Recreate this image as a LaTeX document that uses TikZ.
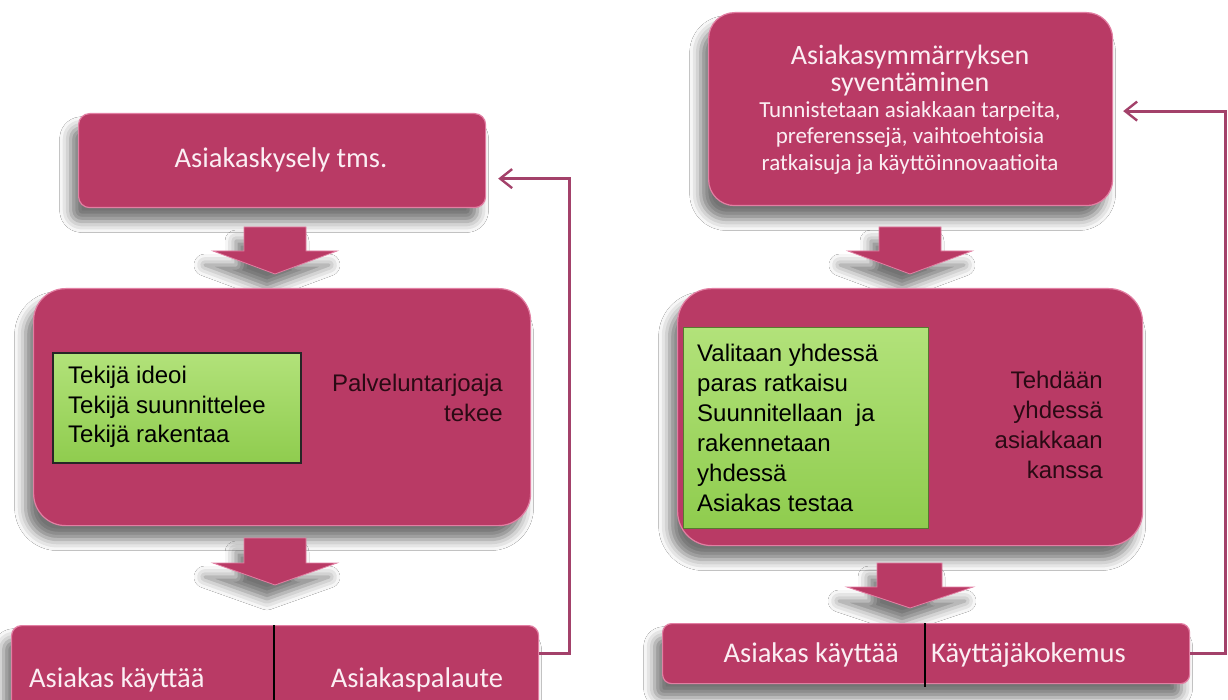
\documentclass[tikz,border=0pt]{standalone}
\usepackage{fontspec}
\setmainfont{Liberation Sans}
\newfontfamily\calfont{Carlito}
\usetikzlibrary{arrows.meta,shadows.blur,calc}
\definecolor{pinkbox}{HTML}{B93A65}
\definecolor{pinkedge}{HTML}{E27FA3}
\definecolor{fbcol}{HTML}{A3416A}
\definecolor{greenbox}{HTML}{8FCC4E}
\definecolor{greenlight}{HTML}{B2E27A}
\definecolor{pinktext}{HTML}{FBEEF3}
\definecolor{darktext}{HTML}{2A0A14}
\tikzset{
  shad/.style={blur shadow={shadow xshift=-8pt, shadow yshift=-14pt, shadow blur radius=11pt, shadow opacity=55}},
  pinkbox/.style={draw=pinkedge, line width=1.2pt, fill=pinkbox, shad, anchor=north west, inner sep=0pt},
  greenbox/.style={top color=greenlight, bottom color=greenbox, anchor=north west, inner sep=0pt},
  blockarrow/.style={fill=pinkbox, draw=pinkedge, line width=0.8pt, shad},
  fbl/.style={draw=fbcol, line width=3pt, -{Straight Barb[length=12pt,width=19pt,line width=2.4pt]}},
  pinklabel/.style={text=pinktext, font=\calfont\fontsize{28.5}{30}\selectfont, inner sep=0pt},
  greenlabel/.style={text=black, font=\fontsize{24}{29.5}\selectfont, align=left, inner sep=0pt, anchor=west},
  darklabel/.style={text=darktext, font=\fontsize{24}{30}\selectfont, align=right, inner sep=0pt, anchor=east},
}
\begin{document}
\begin{tikzpicture}[x=1pt,y=-1pt]
\useasboundingbox (0,0) rectangle (1228,700);
\clip (0,0) rectangle (1228,700);
\fill[white] (0,0) rectangle (1228,700);

% ---------------- left column ----------------
\node[pinkbox, rounded corners=11pt, minimum width=407pt, minimum height=94pt] (A) at (78,113) {};
\node[pinklabel] (Atext) at (281,160) {Asiakaskysely tms.};

\path[blockarrow] (244,227) -- (306,227) -- (306,251) -- (337,251) -- (275,274) -- (213,251) -- (244,251) -- cycle;

\node[pinkbox, rounded corners=32pt, minimum width=497pt, minimum height=237pt] (B) at (33,288) {};
\node[greenbox, draw=black!85, line width=1.8pt, minimum width=248pt, minimum height=110pt] (Bg) at (52,352) {};
\node[greenlabel] (Bgtext) at (68,407) {Tekijä ideoi\\Tekijä suunnittelee\\Tekijä rakentaa};
\node[darklabel] (Btext) at (503,398) {Palveluntarjoaja\\tekee};

\path[blockarrow] (244,538) -- (306,538) -- (306,563) -- (337,563) -- (275,585) -- (213,563) -- (244,563) -- cycle;

\node[pinkbox, rounded corners=10pt, minimum width=527pt, minimum height=110pt] (C) at (11,625) {};
\draw[black, line width=1.5pt] (C.north -| 274,0) -- (C.south -| 274,0);
\node[pinklabel, anchor=west] (C1) at (29,680) {Asiakas käyttää};
\node[pinklabel] (C2) at (417,680) {Asiakaspalaute};

\coordinate (Ain) at ([xshift=12pt,yshift=-18pt]A.east);
\draw[fbl] ([yshift=-28pt]C.north east) -- ++(30,0) |- (Ain);

% ---------------- right column ----------------
\node[pinkbox, rounded corners=26pt, minimum width=404pt, minimum height=193pt] (D) at (708,12) {};
\node[pinklabel, align=center, font=\calfont\fontsize{28}{27}\selectfont] (D1) at (910,71) {Asiakasymmärryksen\\syventäminen};
\node[pinklabel, align=center, font=\calfont\fontsize{23}{26.5}\selectfont] (D2) at (910,137.5) {Tunnistetaan asiakkaan tarpeita,\\preferenssejä, vaihtoehtoisia\\ratkaisuja ja käyttöinnovaatioita};

\path[blockarrow] (879,227) -- (941,227) -- (941,251) -- (972,251) -- (910,274) -- (848,251) -- (879,251) -- cycle;

\node[pinkbox, rounded corners=34pt, minimum width=465pt, minimum height=257pt] (E) at (677,288) {};
\node[greenbox, draw=greenbox!60!black, line width=0.8pt, minimum width=245pt, minimum height=201pt] (Eg) at (683,327) {};
\node[greenlabel, font=\fontsize{24}{30}\selectfont] (Egtext) at (697,428) {Valitaan yhdessä\\paras ratkaisu\\Suunnitellaan\ \ ja\\rakennetaan\\yhdessä\\Asiakas testaa};
\node[darklabel] (Etext) at (1103,425) {Tehdään\\yhdessä\\asiakkaan\\kanssa};

\path[blockarrow] (877,563) -- (942,563) -- (942,587) -- (973,587) -- (910,608) -- (847,587) -- (877,587) -- cycle;

\node[pinkbox, rounded corners=9pt, minimum width=527pt, minimum height=60pt] (F) at (662,623) {};
\draw[black, line width=1.5pt] (F.north -| 925,0) -- ([yshift=-3pt]F.south -| 925,0);
\node[pinklabel, anchor=east] (F1) at (899,655) {Asiakas käyttää};
\node[pinklabel, anchor=west] (F2) at (931,655) {Käyttäjäkokemus};

\coordinate (Din) at ([xshift=10pt,yshift=-2pt]D.east);
\draw[fbl] (F.east) -- ++(35,0) |- (Din);
\end{tikzpicture}
\end{document}
